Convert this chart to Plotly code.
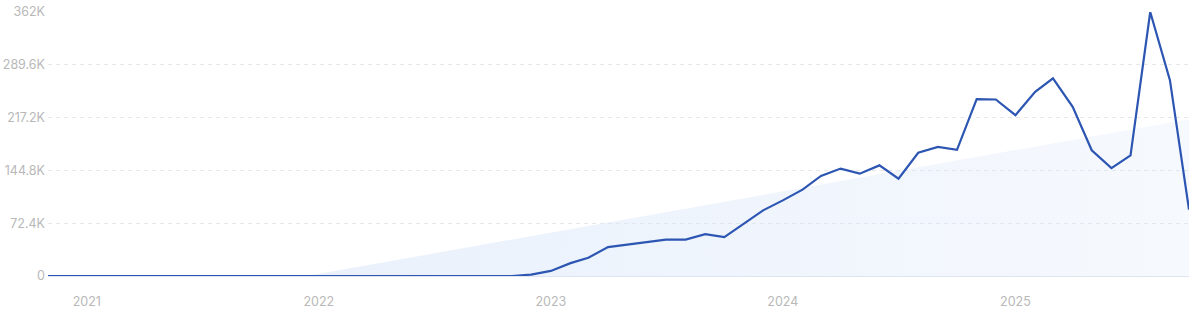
import plotly.graph_objects as go
import pandas as pd

# Monthly categories: Nov 2020 .. Oct 2025
months = pd.date_range("2020-11-01", "2025-10-01", freq="MS")

values = [
    0, 0,                                  # Nov-Dec 2020
    0, 0, 0, 0, 0, 0, 0, 0, 0, 0, 0, 0,    # 2021
    0, 0, 0, 0, 0, 0, 0, 0, 0, 0, 0, 2000, # 2022
    7000, 17600, 25000, 39600, 43300, 46500, 50000, 50000, 57500, 53400, 71400, 90000,  # 2023
    103700, 118400, 137200, 147300, 140300, 151700, 133400, 169000, 177000, 173000, 242500, 242000,  # 2024
    220500, 252500, 271000, 232000, 172400, 148000, 165500, 362000, 268500, 91000,  # 2025
]

trend_x = ["2021-12-13", "2025-10-01"]
trend_y = [0, 215000]

ytick_vals = [0, 72400, 144800, 217200, 289600, 362000]
ytick_text = ["0", "72.4K", "144.8K", "217.2K", "289.6K", "362K"]
xtick_vals = ["2021-01-01", "2022-01-01", "2023-01-01", "2024-01-01", "2025-01-01"]
xtick_text = ["2021", "2022", "2023", "2024", "2025"]

fig = go.Figure()

fig.add_trace(go.Scatter(
    x=trend_x, y=trend_y, mode="lines", line=dict(width=0),
    fill="tozeroy",
    fillgradient=dict(type="horizontal",
                      colorscale=[[0, "rgba(214,228,249,0.52)"], [1, "rgba(214,228,249,0.22)"]]),
    hoverinfo="skip", showlegend=False,
))

fig.add_trace(go.Scatter(
    x=months, y=values, mode="lines",
    line=dict(color="#2c56b2", width=2.2),
    showlegend=False,
))

fig.update_layout(
    width=1200, height=312,
    margin=dict(l=48, r=11, t=12, b=36),
    paper_bgcolor="white", plot_bgcolor="white",
    font=dict(family="Inter, Roboto, sans-serif", size=12, color="#b8b8b8"),
)

fig.update_xaxes(
    range=["2020-11-01", "2025-10-01"],
    tickvals=xtick_vals, ticktext=xtick_text,
    showgrid=False, zeroline=False,
    showline=True, linecolor="#dfe5f0", linewidth=1,
    ticks="", ticklabelstandoff=14, automargin=False,
    tickfont=dict(size=12.5, color="#b8b8b8"),
)

fig.update_yaxes(
    range=[0, 362000],
    tickvals=ytick_vals, ticktext=ytick_text,
    showgrid=True, gridcolor="#e6e8ec", griddash="4px,4px", gridwidth=1,
    zeroline=False, showline=False,
    ticks="", ticklabelstandoff=2, automargin=False,
    tickfont=dict(size=12.5, color="#b8b8b8"),
)

fig.write_html("out.html")
